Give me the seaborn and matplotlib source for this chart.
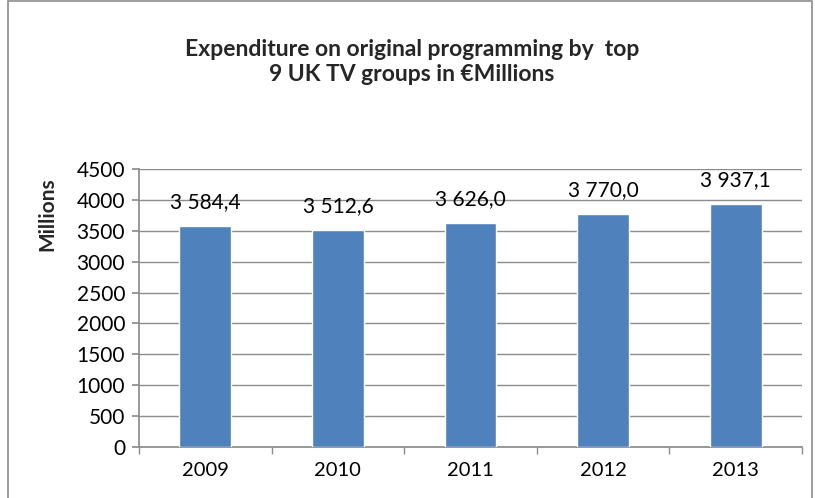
import matplotlib
matplotlib.use("Agg")
import matplotlib.pyplot as plt
import seaborn as sns
import pandas as pd
from matplotlib.patches import Rectangle

years = ["2009", "2010", "2011", "2012", "2013"]
values = [3584.4, 3512.6, 3626.0, 3770.0, 3937.1]
labels = ["3 584,4", "3 512,6", "3 626,0", "3 770,0", "3 937,1"]
title = "Expenditure on original programming by  top\n9 UK TV groups in €Millions"
ylabel = "Millions"

sns.set_theme(style="white")
plt.rcParams['font.family'] = ['Lato', 'DejaVu Sans']

df = pd.DataFrame({"year": years, "value": values})

fig = plt.figure(figsize=(8.15, 4.98), dpi=100)
ax = fig.add_axes([0.1706, 0.1024, 0.8134, 0.5582])
sns.barplot(data=df, x="year", y="value", color="#4F81BD", saturation=1,
            width=0.39, ax=ax, zorder=3)

ax.set_ylim(0, 4500)
ax.set_yticks(range(0, 4501, 500))
ax.set_xlim(-0.5, 4.5)
ax.yaxis.grid(True, color="#8C8C8C", linewidth=1, zorder=0)
ax.set_axisbelow(True)
for s in ["top", "right"]:
    ax.spines[s].set_visible(False)
ax.spines["left"].set_color("#8C8C8C")
ax.spines["bottom"].set_color("#8C8C8C")
ax.tick_params(axis="y", labelsize=15, colors="black", length=5, color="#8C8C8C", left=True, pad=5)
ax.tick_params(axis="x", labelsize=14.5, colors="black", length=0, pad=11)
ax.set_xticks(range(len(years)))
ax.set_xticks([i + 0.5 for i in range(-1, len(years))], minor=True)
ax.tick_params(axis="x", which="minor", length=5, color="#8C8C8C", bottom=True)
ax.set_xlabel("")
ax.set_ylabel("")

fig.text(47 / 815, 1 - 214 / 498, ylabel, rotation=90, ha="center", va="center",
         fontsize=15, fontweight="bold")

for i, (v, lab) in enumerate(zip(values, labels)):
    ax.annotate(lab, (i, v), xytext=(0, 10), textcoords="offset points",
                ha="center", va="bottom", fontsize=15, color="black")

fig.text(412 / 815, 1 - 62 / 498, title, ha="center", va="center", fontsize=16.5,
         fontweight="bold", linespacing=1.25)

fig.patches.append(Rectangle((8 / 815, -0.01), (812 - 8) / 815, 1.0 - 1 / 498 + 0.01,
                             transform=fig.transFigure, fill=False,
                             edgecolor="#8C8C8C", linewidth=1.2))

fig.savefig("out.png", dpi=100)
